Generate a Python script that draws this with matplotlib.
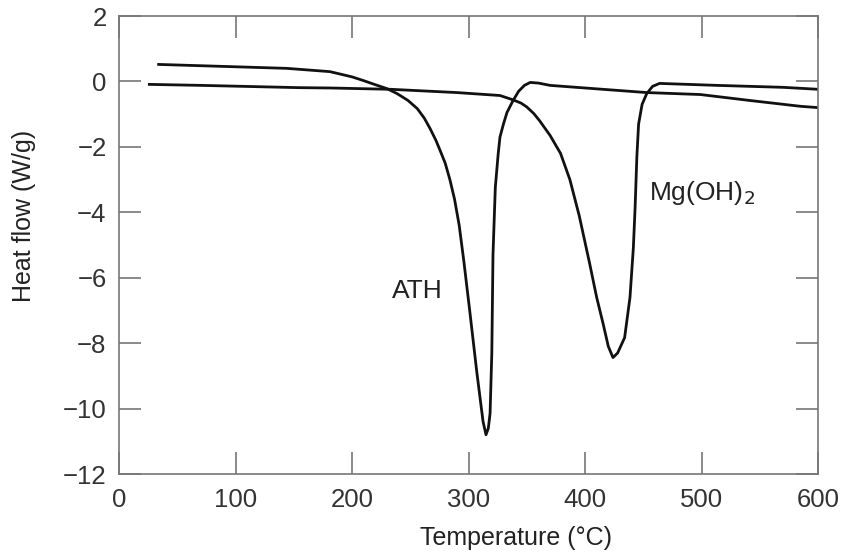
import numpy as np
import matplotlib.pyplot as plt

plt.rcParams['font.family'] = ['Liberation Sans', 'DejaVu Sans']

# ATH curve (temperature in C, heat flow in W/g)
ath_t = [34, 80, 144, 181, 200, 209.5, 220, 230, 238.6, 248, 256, 262, 267, 272,
         275.5, 280, 284, 288, 292, 296, 301, 307, 310, 312.5, 315, 317, 318.5, 320,
         321, 323, 325.5, 327, 330, 333, 338, 343, 348, 353, 360, 370, 400, 453,
         499, 541, 585, 600]
ath_q = [0.52, 0.47, 0.40, 0.30, 0.14, 0.03, -0.10, -0.22, -0.37, -0.58, -0.83,
         -1.12, -1.44, -1.8, -2.1, -2.5, -3.0, -3.6, -4.4, -5.5, -7.0, -8.85, -9.7,
         -10.4, -10.8, -10.6, -10.15, -8.3, -5.3, -3.24, -2.2, -1.7, -1.3, -0.95,
         -0.6, -0.3, -0.12, -0.03, -0.05, -0.12, -0.2, -0.34, -0.4, -0.58, -0.76,
         -0.8]

# Mg(OH)2 curve
mg_t = [26, 70, 155, 181, 233, 290, 327, 338, 345, 350, 356, 361, 370, 379, 387,
        395, 404, 410, 415.5, 420, 424, 428, 434, 438.6, 441.5, 443, 444.5, 446,
        449, 453, 458, 464, 513, 570, 600]
mg_q = [-0.09, -0.12, -0.19, -0.2, -0.24, -0.34, -0.43, -0.56, -0.66, -0.78, -0.98,
        -1.2, -1.65, -2.2, -3.0, -4.1, -5.57, -6.6, -7.4, -8.1, -8.44, -8.3, -7.83,
        -6.6, -5.08, -3.85, -2.3, -1.3, -0.7, -0.37, -0.15, -0.06, -0.12, -0.18,
        -0.24]

fig = plt.figure(figsize=(8.49, 5.58), dpi=100)
ax = fig.add_axes([0.1402, 0.1505, 0.8233, 0.8208])

ax.plot(ath_t, ath_q, color='#111111', lw=2.0, solid_joinstyle='round')
ax.plot(mg_t, mg_q, color='#111111', lw=2.0, solid_joinstyle='round')

ax.text(256, -6.4, 'ATH', fontsize=19, color='#222222', ha='center', va='center')
ax.text(455, -3.4, r'Mg(OH)$_2$', fontsize=19, color='#222222', ha='left', va='center')

ax.set_xlim(0, 600)
ax.set_ylim(-12, 2)
ax.set_xticks(np.arange(0, 601, 100))
ax.set_yticks(np.arange(-12, 3, 2))
ax.set_yticklabels(['\u221212', '\u221210', '\u22128', '\u22126', '\u22124', '\u22122', '0', '2'])

for s in ax.spines.values():
    s.set_color('#777777')
    s.set_linewidth(1.2)
ax.tick_params(direction='in', top=True, right=True, length=16, width=1.2,
               color='#777777', labelsize=18.5, labelcolor='#333333')
ax.tick_params(axis='x', pad=10)
ax.tick_params(axis='y', pad=9)

ax.set_xlabel('Temperature (\u00b0C)', fontsize=18, color='#222222')
ax.xaxis.set_label_coords(0.568, -0.113)
ax.set_ylabel('Heat flow (W/g)', fontsize=18, color='#222222')
ax.yaxis.set_label_coords(-0.119, 0.563)

fig.savefig('out.png', dpi=100)
